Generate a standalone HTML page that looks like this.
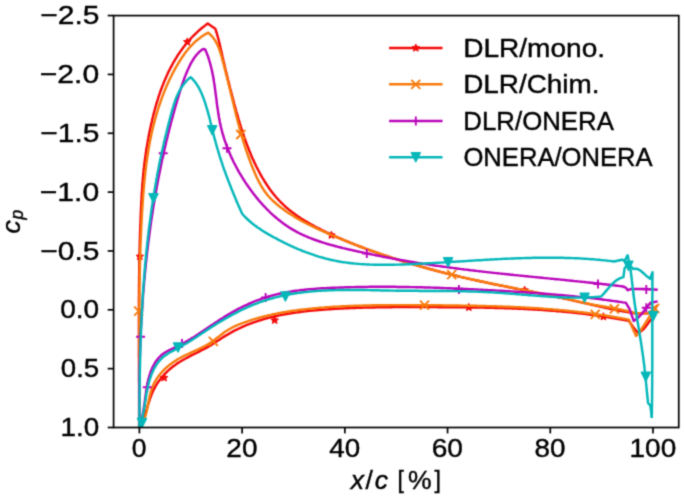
<!DOCTYPE html>
<html><head><meta charset="utf-8"><style>
html,body{margin:0;padding:0;background:#fff;}
svg{display:block;}
text{font-family:"Liberation Sans",sans-serif;fill:#000;stroke:#000;stroke-width:0.4px;}
</style></head><body>
<svg width="685" height="499" viewBox="0 0 685 499">
<defs><filter id="soft" filterUnits="userSpaceOnUse" x="0" y="0" width="685" height="499" color-interpolation-filters="sRGB"><feConvolveMatrix order="3" kernelMatrix="0.0289 0.1122 0.0289 0.1122 0.4356 0.1122 0.0289 0.1122 0.0289" divisor="1" edgeMode="duplicate"/></filter></defs>
<g filter="url(#soft)">
<rect width="685" height="499" fill="#fff"/>
<defs><clipPath id="cp"><rect x="113.6" y="15.6" width="565.15" height="411.90"/></clipPath></defs>
<g clip-path="url(#cp)">
<path d="M139.1,427.0L139.1,425.5L139.1,424.0L139.1,422.5L139.1,421.0L139.1,419.5L139.1,418.0L139.1,416.5L139.1,415.0L139.1,413.5L139.1,412.0L139.1,410.5L139.1,409.0L139.1,407.5L139.1,406.0L139.1,404.5L139.1,403.0L139.1,401.5L139.1,400.0L139.1,398.5L139.1,397.0L139.1,395.5L139.1,393.9L139.1,392.4L139.1,390.9L139.1,389.4L139.1,387.9L139.1,386.4L139.1,384.9L139.1,383.4L139.0,381.9L139.0,380.4L139.0,378.9L139.0,377.4L139.0,375.9L139.0,374.4L139.0,372.9L139.0,371.4L139.0,369.9L139.0,368.3L139.0,366.8L139.0,365.3L139.0,363.8L139.0,362.3L139.0,360.8L139.0,359.3L139.0,357.8L138.9,356.3L138.9,354.8L138.9,353.3L138.9,351.8L138.9,350.2L138.9,348.7L138.9,347.2L138.9,345.7L138.9,344.2L138.9,342.7L138.9,341.2L138.9,339.7L138.9,338.2L138.9,336.7L138.9,335.2L138.9,333.6L138.9,332.1L138.9,330.6L138.9,329.1L138.9,327.6L138.9,326.1L138.9,324.6L138.9,323.1L138.9,321.6L138.9,320.1L138.9,318.6L138.9,317.0L138.9,315.5L138.9,314.0L138.9,312.5L138.9,311.0L138.9,309.5L138.9,308.0L138.9,306.5L138.9,305.0L138.9,303.5L138.9,301.9L138.9,300.4L138.9,298.9L138.9,297.4L139.0,295.9L139.0,294.4L139.0,292.9L139.0,291.4L139.0,289.9L139.0,288.4L139.0,286.9L139.0,285.3L139.1,283.8L139.1,282.3L139.1,280.8L139.1,279.3L139.1,277.8L139.1,276.3L139.2,274.8L139.2,273.3L139.2,271.8L139.2,270.3L139.2,268.8L139.3,267.2L139.3,265.7L139.3,264.2L139.3,262.7L139.4,261.2L139.4,259.7L139.4,258.2L139.5,256.7L139.5,255.2L139.5,253.7L139.6,252.2L139.6,250.7L139.6,249.2L139.7,247.7L139.7,246.2L139.7,244.6L139.8,243.1L139.8,241.6L139.9,240.1L139.9,238.6L139.9,237.1L140.0,235.6L140.0,234.1L140.1,232.6L140.1,231.1L140.2,229.6L140.2,228.1L140.3,226.6L140.3,225.1L140.4,223.6L140.5,222.1L140.5,220.6L140.6,219.1L140.6,217.6L140.7,216.1L140.8,214.6L140.8,213.1L140.9,211.6L141.0,210.1L141.0,208.6L141.1,207.1L141.2,205.6L141.2,204.1L141.3,202.6L141.4,201.1L141.5,199.6L141.6,198.1L141.6,196.6L141.7,195.1L141.8,193.6L141.9,192.1L142.0,190.6L142.1,189.1L142.2,187.6L142.3,186.1L142.4,184.6L142.5,183.1L142.7,181.6L142.8,180.1L142.9,178.6L143.0,177.1L143.2,175.6L143.3,174.1L143.4,172.7L143.6,171.2L143.7,169.7L143.9,168.2L144.1,166.7L144.2,165.2L144.4,163.7L144.6,162.2L144.8,160.7L145.0,159.2L145.2,157.8L145.4,156.3L145.6,154.8L145.8,153.3L146.0,151.8L146.2,150.3L146.5,148.8L146.7,147.4L147.0,145.9L147.2,144.4L147.5,142.9L147.7,141.4L148.0,139.9L148.3,138.4L148.5,137.0L148.8,135.5L149.1,134.0L149.4,132.5L149.7,131.0L150.0,129.6L150.3,128.1L150.7,126.6L151.0,125.1L151.3,123.6L151.7,122.1L152.0,120.7L152.3,119.2L152.7,117.7L153.1,116.2L153.4,114.7L153.8,113.3L154.2,111.8L154.6,110.3L155.0,108.9L155.4,107.4L155.8,105.9L156.2,104.5L156.7,103.0L157.1,101.5L157.6,100.1L158.0,98.6L158.5,97.2L158.9,95.7L159.4,94.3L159.9,92.9L160.4,91.4L160.9,90.0L161.4,88.6L162.0,87.2L162.5,85.8L163.1,84.4L163.6,83.0L164.2,81.6L164.8,80.2L165.4,78.8L166.0,77.4L166.6,76.0L167.2,74.7L167.8,73.3L168.5,71.9L169.1,70.6L169.8,69.3L170.5,67.9L171.2,66.6L171.9,65.3L172.6,64.0L173.3,62.7L174.1,61.4L174.8,60.1L175.6,58.8L176.4,57.6L177.1,56.3L177.9,55.1L178.8,53.8L179.6,52.6L180.4,51.4L181.3,50.2L182.2,49.0L183.1,47.8L184.0,46.6L184.9,45.4L185.8,44.3L186.8,43.1L187.7,42.0L188.7,40.8L189.7,39.7L190.7,38.6L191.7,37.5L192.7,36.5L193.8,35.4L194.9,34.3L195.9,33.3L197.0,32.3L198.2,31.2L199.3,30.2L200.4,29.3L201.6,28.3L202.8,27.3L204.0,26.4L205.2,25.4L206.4,24.5L207.7,23.6L215.3,28.7L215.8,30.1L216.2,31.5L216.7,33.0L217.1,34.4L217.5,35.8L217.9,37.3L218.3,38.7L218.7,40.2L219.0,41.6L219.4,43.1L219.8,44.6L220.1,46.0L220.4,47.5L220.8,49.0L221.1,50.4L221.4,51.9L221.8,53.4L222.1,54.8L222.4,56.3L222.8,57.8L223.1,59.2L223.4,60.7L223.8,62.2L224.1,63.7L224.5,65.1L224.8,66.6L225.2,68.0L225.5,69.5L225.9,71.0L226.2,72.4L226.6,73.9L226.9,75.4L227.3,76.8L227.6,78.3L228.0,79.8L228.4,81.2L228.7,82.7L229.1,84.1L229.5,85.6L229.8,87.1L230.2,88.5L230.6,90.0L231.0,91.4L231.3,92.9L231.7,94.3L232.1,95.8L232.5,97.3L232.9,98.7L233.3,100.2L233.7,101.6L234.0,103.1L234.4,104.5L234.8,106.0L235.2,107.4L235.6,108.9L236.0,110.4L236.4,111.8L236.9,113.3L237.3,114.7L237.7,116.2L238.1,117.6L238.5,119.1L239.0,120.5L239.4,121.9L239.8,123.4L240.3,124.8L240.7,126.3L241.2,127.7L241.6,129.1L242.1,130.6L242.6,132.0L243.0,133.4L243.5,134.9L244.0,136.3L244.5,137.7L245.0,139.1L245.5,140.6L246.0,142.0L246.5,143.4L247.0,144.8L247.6,146.2L248.1,147.6L248.7,149.0L249.2,150.4L249.8,151.8L250.4,153.2L250.9,154.6L251.5,156.0L252.1,157.4L252.7,158.8L253.4,160.1L254.0,161.5L254.6,162.9L255.3,164.3L255.9,165.6L256.6,167.0L257.3,168.3L258.0,169.7L258.7,171.0L259.4,172.3L260.1,173.7L260.8,175.0L261.6,176.3L262.3,177.6L263.1,178.9L263.9,180.2L264.7,181.5L265.5,182.7L266.3,184.0L267.1,185.3L268.0,186.5L268.8,187.7L269.7,189.0L270.6,190.2L271.5,191.4L272.4,192.6L273.3,193.7L274.2,194.9L275.2,196.0L276.1,197.2L277.1,198.3L278.1,199.4L279.1,200.5L280.2,201.6L281.2,202.6L282.3,203.7L283.3,204.7L284.4,205.7L285.5,206.8L286.6,207.7L287.8,208.7L288.9,209.7L290.1,210.6L291.3,211.5L292.5,212.4L293.7,213.3L294.9,214.2L296.1,215.1L297.3,216.0L298.6,216.8L299.8,217.6L301.1,218.5L302.4,219.3L303.7,220.1L305.0,220.9L306.3,221.6L307.6,222.4L308.9,223.2L310.2,223.9L311.6,224.7L312.9,225.4L314.2,226.1L315.6,226.8L316.9,227.5L318.3,228.2L319.7,228.9L321.0,229.6L322.4,230.3L323.8,230.9L325.1,231.6L326.5,232.3L327.9,232.9L329.2,233.6L330.6,234.2L332.0,234.8L333.4,235.5L334.7,236.1L336.1,236.7L337.5,237.3L338.9,237.9L340.3,238.5L341.7,239.1L343.0,239.7L344.4,240.3L345.8,240.9L347.2,241.5L348.6,242.0L350.0,242.6L351.4,243.2L352.8,243.7L354.2,244.3L355.6,244.8L357.0,245.4L358.4,245.9L359.8,246.5L361.2,247.0L362.6,247.5L364.0,248.1L365.4,248.6L366.8,249.1L368.2,249.6L369.6,250.1L371.0,250.6L372.4,251.1L373.8,251.6L375.2,252.1L376.7,252.6L378.1,253.1L379.5,253.6L380.9,254.1L382.3,254.6L383.8,255.1L385.2,255.5L386.6,256.0L388.0,256.5L389.5,256.9L390.9,257.4L392.3,257.9L393.8,258.3L395.2,258.8L396.6,259.2L398.1,259.7L399.5,260.1L400.9,260.6L402.4,261.0L403.8,261.5L405.3,261.9L406.7,262.4L408.1,262.8L409.6,263.2L411.0,263.7L412.5,264.1L413.9,264.5L415.4,264.9L416.8,265.4L418.3,265.8L419.7,266.2L421.2,266.6L422.6,267.0L424.1,267.4L425.5,267.8L427.0,268.2L428.5,268.6L429.9,269.0L431.4,269.4L432.8,269.8L434.3,270.2L435.8,270.6L437.2,271.0L438.7,271.4L440.1,271.8L441.6,272.1L443.1,272.5L444.5,272.9L446.0,273.3L447.5,273.6L448.9,274.0L450.4,274.4L451.9,274.7L453.3,275.1L454.8,275.4L456.3,275.8L457.7,276.2L459.2,276.5L460.7,276.9L462.1,277.2L463.6,277.5L465.1,277.9L466.6,278.2L468.0,278.6L469.5,278.9L471.0,279.2L472.4,279.6L473.9,279.9L475.4,280.2L476.9,280.5L478.3,280.8L479.8,281.2L481.3,281.5L482.8,281.8L484.2,282.1L485.7,282.4L487.2,282.7L488.6,283.1L490.1,283.4L491.6,283.7L493.1,284.0L494.5,284.3L496.0,284.6L497.5,284.9L499.0,285.2L500.4,285.5L501.9,285.8L503.4,286.1L504.9,286.4L506.3,286.7L507.8,287.0L509.3,287.3L510.8,287.6L512.3,287.9L513.7,288.2L515.2,288.5L516.7,288.8L518.2,289.1L519.6,289.4L521.1,289.6L522.6,289.9L524.1,290.2L525.5,290.5L527.0,290.8L528.5,291.1L530.0,291.4L531.4,291.7L532.9,292.0L534.4,292.3L535.9,292.6L537.3,292.9L538.8,293.2L540.3,293.5L541.8,293.8L543.2,294.1L544.7,294.4L546.2,294.7L547.7,295.0L549.1,295.3L550.6,295.6L552.1,295.9L553.5,296.2L555.0,296.6L556.5,296.9L558.0,297.2L559.4,297.5L560.9,297.8L562.4,298.1L563.8,298.5L565.3,298.8L566.8,299.1L568.3,299.4L569.7,299.8L571.2,300.1L572.7,300.4L574.1,300.8L575.6,301.1L577.1,301.4L578.5,301.8L580.0,302.1L581.5,302.4L583.0,302.8L584.4,303.1L585.9,303.4L587.4,303.8L588.8,304.1L590.3,304.4L591.8,304.8L593.2,305.1L594.7,305.4L596.2,305.8L597.6,306.1L599.1,306.4L600.6,306.8L602.1,307.1L603.5,307.4L605.0,307.7L606.5,308.0L608.0,308.4L609.4,308.7L610.9,309.0L612.4,309.3L613.9,309.6L615.3,309.9L616.8,310.2L618.3,310.5L619.8,310.8L621.2,311.0L622.7,311.3L624.2,311.6L625.7,311.9L627.2,312.1L628.7,312.4L630.1,312.6L631.6,312.9L633.1,313.1L634.6,313.4L636.1,313.6L648.1,313.4L652.9,310.1L656.5,306.5" fill="none" stroke="#f40a0a" stroke-width="2.45" stroke-linejoin="round" stroke-linecap="square"/>
<path d="M139.1,427.0L139.9,425.7L140.6,424.5L141.3,423.1L142.0,421.8L142.6,420.5L143.2,419.1L143.8,417.7L144.3,416.3L144.8,414.9L145.3,413.5L145.8,412.0L146.2,410.6L146.7,409.1L147.1,407.7L147.6,406.2L148.0,404.8L148.5,403.3L149.0,401.8L149.5,400.4L149.9,398.9L150.5,397.5L151.0,396.0L151.5,394.6L152.1,393.2L152.7,391.8L153.3,390.5L154.0,389.1L154.7,387.8L155.4,386.5L156.2,385.2L156.9,383.9L157.7,382.7L158.6,381.5L159.5,380.3L160.3,379.1L161.3,377.9L162.2,376.8L163.2,375.7L164.2,374.6L165.2,373.5L166.3,372.5L167.3,371.4L168.4,370.4L169.5,369.4L170.6,368.5L171.8,367.5L173.0,366.6L174.2,365.7L175.4,364.8L176.6,364.0L177.8,363.1L179.1,362.3L180.3,361.5L181.6,360.8L182.9,360.0L184.2,359.3L185.6,358.5L186.9,357.8L188.2,357.1L189.6,356.4L190.9,355.7L192.2,355.0L193.6,354.3L195.0,353.7L196.3,353.0L197.7,352.3L199.0,351.6L200.4,350.9L201.7,350.2L203.1,349.5L204.4,348.8L205.7,348.1L207.1,347.4L208.4,346.6L209.7,345.9L211.0,345.1L212.3,344.3L213.5,343.5L214.8,342.7L216.1,341.8L217.3,341.0L218.6,340.2L219.8,339.4L221.1,338.5L222.3,337.7L223.6,336.9L224.9,336.1L226.2,335.3L227.5,334.6L228.8,333.8L230.1,333.1L231.4,332.3L232.7,331.6L234.0,330.9L235.4,330.2L236.7,329.6L238.0,328.9L239.4,328.3L240.8,327.6L242.1,327.0L243.5,326.4L244.9,325.8L246.2,325.2L247.6,324.7L249.0,324.1L250.4,323.6L251.8,323.1L253.2,322.5L254.6,322.1L256.1,321.6L257.5,321.1L258.9,320.6L260.3,320.2L261.8,319.8L263.2,319.3L264.6,318.9L266.1,318.5L267.5,318.1L269.0,317.8L270.4,317.4L271.9,317.0L273.4,316.7L274.8,316.3L276.3,316.0L277.8,315.7L279.2,315.4L280.7,315.1L282.2,314.8L283.7,314.5L285.1,314.3L286.6,314.0L288.1,313.7L289.6,313.5L291.1,313.3L292.6,313.0L294.1,312.8L295.6,312.6L297.1,312.4L298.6,312.2L300.1,312.0L301.6,311.8L303.1,311.6L304.6,311.4L306.1,311.3L307.6,311.1L309.1,310.9L310.6,310.8L312.1,310.6L313.6,310.5L315.1,310.4L316.6,310.2L318.1,310.1L319.7,310.0L321.2,309.8L322.7,309.7L324.2,309.6L325.7,309.5L327.2,309.4L328.7,309.3L330.2,309.2L331.7,309.1L333.2,309.0L334.7,308.9L336.2,308.8L337.7,308.7L339.2,308.6L340.7,308.5L342.2,308.4L343.7,308.4L345.2,308.3L346.8,308.2L348.3,308.2L349.8,308.1L351.3,308.0L352.8,308.0L354.3,307.9L355.8,307.9L357.3,307.8L358.8,307.8L360.3,307.7L361.8,307.7L363.3,307.6L364.8,307.6L366.3,307.5L367.8,307.5L369.3,307.5L370.8,307.4L372.3,307.4L373.8,307.4L375.3,307.4L376.8,307.3L378.3,307.3L379.8,307.3L381.3,307.3L382.8,307.2L384.3,307.2L385.8,307.2L387.3,307.2L388.8,307.2L390.3,307.2L391.8,307.2L393.3,307.1L394.8,307.1L396.3,307.1L397.8,307.1L399.3,307.1L400.8,307.1L402.3,307.1L403.8,307.1L405.3,307.1L406.8,307.1L408.3,307.1L409.8,307.1L411.3,307.1L412.8,307.1L414.3,307.1L415.8,307.1L417.4,307.1L418.9,307.1L420.4,307.1L421.9,307.1L423.4,307.1L424.9,307.1L426.4,307.1L427.9,307.1L429.4,307.1L430.9,307.1L432.4,307.1L433.9,307.1L435.4,307.1L436.9,307.1L438.4,307.2L439.9,307.2L441.4,307.2L442.9,307.2L444.4,307.2L446.0,307.2L447.5,307.2L449.0,307.2L450.5,307.2L452.0,307.2L453.5,307.2L455.0,307.2L456.5,307.3L458.0,307.3L459.5,307.3L461.0,307.3L462.5,307.3L464.0,307.3L465.6,307.3L467.1,307.4L468.6,307.4L470.1,307.4L471.6,307.4L473.1,307.4L474.6,307.5L476.1,307.5L477.6,307.5L479.1,307.5L480.6,307.6L482.1,307.6L483.7,307.6L485.2,307.7L486.7,307.7L488.2,307.7L489.7,307.8L491.2,307.8L492.7,307.8L494.2,307.9L495.7,307.9L497.2,307.9L498.7,308.0L500.2,308.0L501.7,308.1L503.3,308.1L504.8,308.2L506.3,308.2L507.8,308.3L509.3,308.3L510.8,308.4L512.3,308.5L513.8,308.5L515.3,308.6L516.8,308.6L518.3,308.7L519.8,308.8L521.3,308.8L522.8,308.9L524.3,309.0L525.8,309.1L527.4,309.1L528.9,309.2L530.4,309.3L531.9,309.4L533.4,309.5L534.9,309.6L536.4,309.6L537.9,309.7L539.4,309.8L540.9,309.9L542.4,310.0L543.9,310.1L545.4,310.2L546.9,310.3L548.4,310.5L549.9,310.6L551.4,310.7L552.9,310.8L554.4,310.9L555.9,311.0L557.4,311.2L558.9,311.3L560.4,311.4L561.9,311.6L563.4,311.7L564.9,311.8L566.4,312.0L567.9,312.1L569.4,312.3L570.9,312.4L572.4,312.6L573.9,312.7L575.4,312.9L576.9,313.1L578.4,313.2L579.9,313.4L581.4,313.6L582.8,313.7L584.3,313.9L585.8,314.1L587.3,314.3L588.8,314.5L590.3,314.7L591.8,314.9L593.3,315.1L594.8,315.3L596.3,315.5L597.8,315.7L599.2,315.9L600.7,316.1L602.2,316.3L603.7,316.5L605.2,316.8L606.7,317.0L608.2,317.2L609.6,317.5L611.1,317.7L612.6,318.0L614.1,318.2L615.6,318.5L617.1,318.7L618.5,319.0L620.0,319.2L621.5,319.5L623.0,319.8L624.5,320.0L625.9,320.3L627.4,320.6L628.9,320.9L633.5,327.5L638.0,333.0L639.5,332.3L640.8,331.4L642.1,330.4L643.3,329.3L644.4,328.1L645.5,326.8L646.5,325.5L647.5,324.1L648.5,322.7L649.5,321.3L650.6,320.0L651.6,318.6L652.7,317.3L653.8,316.1L655.0,315.0" fill="none" stroke="#f40a0a" stroke-width="2.45" stroke-linejoin="round" stroke-linecap="square"/>
<polygon points="187.3,37.9 186.2,40.4 183.5,40.7 185.6,42.5 184.9,45.1 187.3,43.7 189.7,45.1 189.0,42.5 191.1,40.7 188.4,40.4" fill="#f40a0a" stroke="#f40a0a" stroke-width="1.0" stroke-linejoin="round"/>
<polygon points="139.8,252.5 138.7,255.0 136.0,255.3 138.1,257.1 137.4,259.7 139.8,258.3 142.2,259.7 141.5,257.1 143.6,255.3 140.9,255.0" fill="#f40a0a" stroke="#f40a0a" stroke-width="1.0" stroke-linejoin="round"/>
<polygon points="164.1,373.8 163.0,376.3 160.3,376.6 162.4,378.4 161.7,381.0 164.1,379.6 166.5,381.0 165.8,378.4 167.9,376.6 165.2,376.3" fill="#f40a0a" stroke="#f40a0a" stroke-width="1.0" stroke-linejoin="round"/>
<polygon points="274.7,316.3 273.6,318.8 270.9,319.1 273.0,320.9 272.3,323.5 274.7,322.1 277.1,323.5 276.4,320.9 278.5,319.1 275.8,318.8" fill="#f40a0a" stroke="#f40a0a" stroke-width="1.0" stroke-linejoin="round"/>
<polygon points="331.4,231.2 330.3,233.7 327.6,234.0 329.7,235.8 329.0,238.4 331.4,237.0 333.8,238.4 333.1,235.8 335.2,234.0 332.5,233.7" fill="#f40a0a" stroke="#f40a0a" stroke-width="1.0" stroke-linejoin="round"/>
<polygon points="468.8,303.4 467.7,305.9 465.0,306.2 467.1,308.0 466.4,310.6 468.8,309.2 471.2,310.6 470.5,308.0 472.6,306.2 469.9,305.9" fill="#f40a0a" stroke="#f40a0a" stroke-width="1.0" stroke-linejoin="round"/>
<polygon points="524.6,286.2 523.5,288.7 520.8,289.0 522.9,290.8 522.2,293.4 524.6,292.0 527.0,293.4 526.3,290.8 528.4,289.0 525.7,288.7" fill="#f40a0a" stroke="#f40a0a" stroke-width="1.0" stroke-linejoin="round"/>
<polygon points="603.4,312.7 602.3,315.2 599.6,315.5 601.7,317.3 601.0,319.9 603.4,318.5 605.8,319.9 605.1,317.3 607.2,315.5 604.5,315.2" fill="#f40a0a" stroke="#f40a0a" stroke-width="1.0" stroke-linejoin="round"/>
<path d="M139.2,427.0L139.2,425.5L139.2,424.0L139.2,422.5L139.3,421.0L139.3,419.5L139.3,418.0L139.3,416.5L139.3,415.0L139.3,413.5L139.3,412.0L139.3,410.5L139.3,409.0L139.3,407.5L139.3,406.0L139.3,404.5L139.3,402.9L139.3,401.4L139.3,399.9L139.3,398.4L139.3,396.9L139.3,395.4L139.3,393.9L139.4,392.4L139.4,390.9L139.4,389.4L139.4,387.9L139.4,386.4L139.3,384.9L139.3,383.4L139.3,381.9L139.3,380.3L139.3,378.8L139.3,377.3L139.3,375.8L139.3,374.3L139.3,372.8L139.3,371.3L139.3,369.8L139.3,368.3L139.3,366.8L139.3,365.3L139.3,363.7L139.3,362.2L139.3,360.7L139.3,359.2L139.3,357.7L139.3,356.2L139.3,354.7L139.3,353.2L139.3,351.7L139.3,350.2L139.3,348.6L139.3,347.1L139.3,345.6L139.3,344.1L139.3,342.6L139.3,341.1L139.3,339.6L139.3,338.1L139.3,336.6L139.3,335.0L139.3,333.5L139.3,332.0L139.3,330.5L139.3,329.0L139.3,327.5L139.3,326.0L139.3,324.5L139.3,322.9L139.3,321.4L139.3,319.9L139.3,318.4L139.3,316.9L139.3,315.4L139.3,313.9L139.3,312.4L139.3,310.9L139.3,309.3L139.3,307.8L139.4,306.3L139.4,304.8L139.4,303.3L139.4,301.8L139.4,300.3L139.4,298.8L139.4,297.3L139.4,295.7L139.5,294.2L139.5,292.7L139.5,291.2L139.5,289.7L139.5,288.2L139.5,286.7L139.6,285.2L139.6,283.7L139.6,282.1L139.6,280.6L139.7,279.1L139.7,277.6L139.7,276.1L139.7,274.6L139.8,273.1L139.8,271.6L139.8,270.1L139.9,268.5L139.9,267.0L139.9,265.5L140.0,264.0L140.0,262.5L140.0,261.0L140.1,259.5L140.1,258.0L140.2,256.5L140.2,255.0L140.3,253.5L140.3,252.0L140.3,250.4L140.4,248.9L140.4,247.4L140.5,245.9L140.5,244.4L140.6,242.9L140.7,241.4L140.7,239.9L140.8,238.4L140.8,236.9L140.9,235.4L141.0,233.9L141.0,232.4L141.1,230.9L141.2,229.4L141.2,227.8L141.3,226.3L141.4,224.8L141.5,223.3L141.5,221.8L141.6,220.3L141.7,218.8L141.8,217.3L141.9,215.8L141.9,214.3L142.0,212.8L142.1,211.3L142.2,209.8L142.3,208.3L142.4,206.8L142.5,205.3L142.6,203.8L142.7,202.3L142.8,200.8L142.9,199.3L143.0,197.8L143.1,196.3L143.2,194.8L143.3,193.3L143.5,191.8L143.6,190.3L143.7,188.8L143.8,187.3L144.0,185.8L144.1,184.3L144.2,182.8L144.4,181.3L144.5,179.8L144.7,178.4L144.8,176.9L145.0,175.4L145.2,173.9L145.3,172.4L145.5,170.9L145.7,169.4L145.8,167.9L146.0,166.4L146.2,164.9L146.4,163.4L146.6,161.9L146.8,160.5L147.0,159.0L147.2,157.5L147.5,156.0L147.7,154.5L147.9,153.0L148.2,151.5L148.4,150.0L148.7,148.5L148.9,147.1L149.2,145.6L149.5,144.1L149.7,142.6L150.0,141.1L150.3,139.6L150.6,138.2L150.9,136.7L151.2,135.2L151.5,133.7L151.9,132.2L152.2,130.8L152.6,129.3L152.9,127.8L153.3,126.3L153.6,124.9L154.0,123.4L154.4,121.9L154.8,120.4L155.2,119.0L155.6,117.5L156.0,116.1L156.4,114.6L156.8,113.1L157.3,111.7L157.7,110.2L158.2,108.8L158.6,107.3L159.1,105.9L159.6,104.5L160.1,103.0L160.6,101.6L161.1,100.2L161.6,98.7L162.1,97.3L162.6,95.9L163.2,94.5L163.7,93.1L164.3,91.7L164.8,90.3L165.4,88.9L166.0,87.5L166.6,86.1L167.2,84.7L167.8,83.3L168.5,81.9L169.1,80.6L169.7,79.2L170.4,77.9L171.1,76.5L171.7,75.2L172.4,73.8L173.1,72.5L173.8,71.1L174.5,69.8L175.3,68.5L176.0,67.2L176.8,65.9L177.5,64.6L178.3,63.3L179.1,62.0L179.9,60.7L180.7,59.5L181.5,58.2L182.3,57.0L183.2,55.7L184.0,54.5L184.9,53.3L185.8,52.1L186.7,50.9L187.7,49.8L188.6,48.6L189.6,47.5L190.6,46.4L191.6,45.3L192.6,44.3L193.7,43.2L194.7,42.2L195.8,41.2L197.0,40.2L198.1,39.3L199.3,38.4L200.5,37.5L201.7,36.6L202.9,35.8L204.2,34.9L205.5,34.2L206.8,33.4L208.2,32.7L209.4,33.7L210.5,34.8L211.6,35.9L212.6,37.0L213.5,38.2L214.4,39.4L215.2,40.7L215.9,41.9L216.6,43.2L217.3,44.5L217.9,45.9L218.5,47.2L219.0,48.6L219.5,50.0L220.0,51.4L220.5,52.9L220.9,54.3L221.3,55.7L221.8,57.2L222.1,58.6L222.5,60.1L222.9,61.6L223.3,63.0L223.7,64.5L224.1,65.9L224.4,67.4L224.8,68.9L225.2,70.3L225.6,71.8L225.9,73.3L226.3,74.7L226.7,76.2L227.0,77.6L227.4,79.1L227.8,80.6L228.1,82.0L228.5,83.5L228.8,85.0L229.2,86.4L229.6,87.9L229.9,89.4L230.3,90.8L230.6,92.3L231.0,93.7L231.3,95.2L231.7,96.7L232.1,98.1L232.4,99.6L232.8,101.1L233.1,102.5L233.5,104.0L233.8,105.5L234.2,106.9L234.5,108.4L234.9,109.8L235.3,111.3L235.6,112.8L236.0,114.2L236.3,115.7L236.7,117.2L237.1,118.6L237.5,120.1L237.8,121.5L238.2,123.0L238.6,124.4L239.0,125.9L239.4,127.3L239.7,128.8L240.1,130.2L240.5,131.7L240.9,133.1L241.4,134.6L241.8,136.0L242.2,137.5L242.6,138.9L243.0,140.3L243.5,141.8L243.9,143.2L244.4,144.6L244.8,146.1L245.3,147.5L245.7,148.9L246.2,150.4L246.7,151.8L247.2,153.2L247.7,154.6L248.2,156.0L248.7,157.5L249.2,158.9L249.7,160.3L250.3,161.7L250.8,163.1L251.3,164.5L251.9,165.9L252.4,167.3L253.0,168.7L253.6,170.1L254.2,171.5L254.8,172.9L255.4,174.3L256.0,175.7L256.6,177.1L257.3,178.5L258.0,179.8L258.6,181.2L259.3,182.5L260.1,183.8L260.8,185.2L261.5,186.5L262.3,187.7L263.1,189.0L264.0,190.3L264.8,191.5L265.7,192.7L266.6,193.9L267.5,195.0L268.5,196.2L269.5,197.3L270.5,198.4L271.6,199.5L272.6,200.5L273.7,201.5L274.8,202.5L276.0,203.5L277.1,204.5L278.3,205.5L279.4,206.4L280.6,207.3L281.8,208.2L283.0,209.1L284.2,210.0L285.4,210.9L286.7,211.7L287.9,212.6L289.2,213.4L290.4,214.2L291.7,215.0L293.0,215.8L294.2,216.6L295.5,217.4L296.8,218.1L298.1,218.9L299.4,219.6L300.7,220.4L302.1,221.1L303.4,221.8L304.7,222.5L306.0,223.2L307.4,223.9L308.7,224.6L310.1,225.2L311.4,225.9L312.8,226.6L314.1,227.2L315.5,227.9L316.9,228.5L318.3,229.1L319.6,229.8L321.0,230.4L322.4,231.0L323.8,231.6L325.1,232.2L326.5,232.9L327.9,233.5L329.3,234.1L330.7,234.7L332.1,235.3L333.5,235.8L334.8,236.4L336.2,237.0L337.6,237.6L339.0,238.2L340.4,238.8L341.8,239.3L343.2,239.9L344.6,240.5L346.0,241.0L347.4,241.6L348.8,242.2L350.2,242.7L351.6,243.3L353.0,243.8L354.4,244.4L355.8,244.9L357.2,245.4L358.6,246.0L360.0,246.5L361.5,247.0L362.9,247.6L364.3,248.1L365.7,248.6L367.1,249.1L368.5,249.7L369.9,250.2L371.3,250.7L372.8,251.2L374.2,251.7L375.6,252.2L377.0,252.7L378.4,253.2L379.9,253.7L381.3,254.2L382.7,254.7L384.1,255.1L385.6,255.6L387.0,256.1L388.4,256.6L389.9,257.0L391.3,257.5L392.7,258.0L394.1,258.4L395.6,258.9L397.0,259.4L398.4,259.8L399.9,260.3L401.3,260.7L402.7,261.2L404.2,261.6L405.6,262.1L407.1,262.5L408.5,262.9L409.9,263.4L411.4,263.8L412.8,264.2L414.3,264.7L415.7,265.1L417.2,265.5L418.6,265.9L420.1,266.3L421.5,266.7L422.9,267.2L424.4,267.6L425.8,268.0L427.3,268.4L428.7,268.8L430.2,269.2L431.6,269.5L433.1,269.9L434.6,270.3L436.0,270.7L437.5,271.1L438.9,271.5L440.4,271.9L441.8,272.2L443.3,272.6L444.8,273.0L446.2,273.3L447.7,273.7L449.1,274.1L450.6,274.4L452.1,274.8L453.5,275.1L455.0,275.5L456.4,275.8L457.9,276.2L459.4,276.5L460.8,276.9L462.3,277.2L463.8,277.6L465.2,277.9L466.7,278.2L468.2,278.5L469.7,278.9L471.1,279.2L472.6,279.5L474.1,279.8L475.5,280.2L477.0,280.5L478.5,280.8L480.0,281.1L481.4,281.4L482.9,281.7L484.4,282.0L485.9,282.3L487.3,282.7L488.8,283.0L490.3,283.3L491.8,283.6L493.2,283.9L494.7,284.2L496.2,284.5L497.7,284.8L499.1,285.1L500.6,285.3L502.1,285.6L503.6,285.9L505.0,286.2L506.5,286.5L508.0,286.8L509.5,287.1L511.0,287.4L512.4,287.7L513.9,288.0L515.4,288.3L516.9,288.6L518.3,288.9L519.8,289.1L521.3,289.4L522.8,289.7L524.3,290.0L525.7,290.3L527.2,290.6L528.7,290.9L530.2,291.2L531.6,291.5L533.1,291.8L534.6,292.1L536.1,292.4L537.5,292.7L539.0,293.0L540.5,293.3L542.0,293.6L543.4,293.9L544.9,294.2L546.4,294.5L547.9,294.8L549.3,295.1L550.8,295.4L552.3,295.7L553.7,296.0L555.2,296.3L556.7,296.6L558.2,297.0L559.6,297.3L561.1,297.6L562.6,297.9L564.0,298.3L565.5,298.6L567.0,298.9L568.4,299.2L569.9,299.6L571.3,299.9L572.8,300.2L574.3,300.6L575.7,300.9L577.2,301.2L578.7,301.6L580.1,301.9L581.6,302.2L583.1,302.5L584.5,302.9L586.0,303.2L587.5,303.5L588.9,303.8L590.4,304.1L591.9,304.4L593.3,304.7L594.8,305.0L596.3,305.2L597.8,305.5L599.3,305.8L600.7,306.0L602.2,306.3L603.7,306.5L605.2,306.7L606.7,307.0L608.1,307.2L609.6,307.5L611.1,307.7L612.6,308.0L614.1,308.3L615.5,308.6L617.0,308.8L618.5,309.1L620.0,309.4L621.4,309.7L622.9,310.0L624.4,310.4L625.8,310.7L627.3,311.0L628.8,311.4L630.2,311.7L631.7,312.0L633.2,312.4L634.6,312.7L636.1,313.1L648.1,313.1L652.9,310.1L656.5,305.9" fill="none" stroke="#f77a0d" stroke-width="2.45" stroke-linejoin="round" stroke-linecap="square"/>
<path d="M139.2,427.0L140.2,425.9L141.1,424.8L141.9,423.6L142.6,422.3L143.3,421.1L143.9,419.8L144.5,418.4L145.0,417.0L145.5,415.6L145.9,414.2L146.3,412.8L146.7,411.3L147.0,409.8L147.3,408.3L147.6,406.8L147.9,405.2L148.2,403.7L148.5,402.2L148.8,400.6L149.1,399.1L149.4,397.6L149.7,396.1L150.1,394.5L150.4,393.1L150.9,391.6L151.3,390.1L151.8,388.7L152.3,387.3L152.9,385.9L153.5,384.5L154.1,383.2L154.8,381.9L155.6,380.6L156.3,379.4L157.1,378.1L158.0,376.9L158.8,375.7L159.8,374.6L160.7,373.4L161.7,372.3L162.7,371.2L163.7,370.2L164.7,369.1L165.8,368.1L166.9,367.1L168.1,366.2L169.2,365.2L170.4,364.3L171.6,363.4L172.8,362.5L174.0,361.7L175.3,360.9L176.6,360.1L177.8,359.3L179.1,358.5L180.5,357.8L181.8,357.1L183.1,356.4L184.5,355.7L185.8,355.1L187.2,354.4L188.6,353.8L189.9,353.1L191.3,352.5L192.7,351.9L194.1,351.2L195.4,350.6L196.8,350.0L198.2,349.3L199.5,348.7L200.9,348.0L202.3,347.3L203.6,346.7L204.9,346.0L206.3,345.2L207.6,344.5L208.9,343.7L210.1,342.9L211.4,342.1L212.7,341.3L213.9,340.4L215.1,339.5L216.3,338.6L217.5,337.6L218.7,336.7L219.9,335.8L221.0,334.8L222.2,333.9L223.4,333.0L224.7,332.1L225.9,331.3L227.2,330.5L228.4,329.7L229.7,329.0L231.0,328.2L232.4,327.5L233.7,326.9L235.0,326.2L236.4,325.6L237.8,325.0L239.1,324.4L240.5,323.9L241.9,323.3L243.3,322.8L244.7,322.3L246.2,321.8L247.6,321.3L249.0,320.8L250.4,320.3L251.9,319.9L253.3,319.4L254.7,319.0L256.2,318.6L257.6,318.2L259.0,317.8L260.5,317.4L261.9,317.0L263.4,316.6L264.9,316.2L266.3,315.9L267.8,315.5L269.2,315.2L270.7,314.9L272.2,314.5L273.6,314.2L275.1,313.9L276.6,313.6L278.1,313.3L279.5,313.0L281.0,312.8L282.5,312.5L284.0,312.2L285.5,312.0L287.0,311.7L288.5,311.5L289.9,311.3L291.4,311.0L292.9,310.8L294.4,310.6L295.9,310.4L297.4,310.2L298.9,310.0L300.4,309.8L301.9,309.6L303.4,309.4L304.9,309.3L306.4,309.1L307.9,308.9L309.4,308.8L310.9,308.6L312.4,308.5L313.9,308.3L315.4,308.2L316.9,308.1L318.4,307.9L319.9,307.8L321.4,307.7L322.9,307.6L324.4,307.5L325.9,307.3L327.5,307.2L329.0,307.1L330.5,307.0L332.0,306.9L333.5,306.8L335.0,306.7L336.5,306.6L338.0,306.6L339.5,306.5L341.0,306.4L342.5,306.3L344.0,306.2L345.5,306.2L347.0,306.1L348.5,306.0L350.0,306.0L351.5,305.9L353.0,305.9L354.5,305.8L356.0,305.8L357.5,305.7L359.0,305.7L360.5,305.6L362.0,305.6L363.5,305.5L365.0,305.5L366.5,305.5L368.0,305.4L369.5,305.4L371.0,305.4L372.5,305.3L374.0,305.3L375.5,305.3L377.0,305.3L378.5,305.3L380.0,305.2L381.5,305.2L383.0,305.2L384.5,305.2L386.0,305.2L387.5,305.2L389.0,305.2L390.5,305.1L392.0,305.1L393.5,305.1L395.0,305.1L396.5,305.1L398.0,305.1L399.5,305.1L401.0,305.1L402.5,305.1L404.0,305.1L405.5,305.1L407.1,305.1L408.6,305.1L410.1,305.1L411.6,305.2L413.1,305.2L414.6,305.2L416.1,305.2L417.6,305.2L419.1,305.2L420.6,305.2L422.1,305.2L423.6,305.2L425.1,305.2L426.6,305.2L428.1,305.2L429.6,305.3L431.1,305.3L432.6,305.3L434.1,305.3L435.6,305.3L437.1,305.3L438.6,305.3L440.2,305.3L441.7,305.3L443.2,305.4L444.7,305.4L446.2,305.4L447.7,305.4L449.2,305.4L450.7,305.4L452.2,305.4L453.7,305.5L455.2,305.5L456.7,305.5L458.2,305.5L459.7,305.5L461.3,305.6L462.8,305.6L464.3,305.6L465.8,305.6L467.3,305.7L468.8,305.7L470.3,305.7L471.8,305.7L473.3,305.8L474.8,305.8L476.3,305.8L477.8,305.9L479.3,305.9L480.9,305.9L482.4,306.0L483.9,306.0L485.4,306.0L486.9,306.1L488.4,306.1L489.9,306.1L491.4,306.2L492.9,306.2L494.4,306.3L495.9,306.3L497.4,306.4L498.9,306.4L500.4,306.5L502.0,306.5L503.5,306.6L505.0,306.6L506.5,306.7L508.0,306.8L509.5,306.8L511.0,306.9L512.5,306.9L514.0,307.0L515.5,307.1L517.0,307.1L518.5,307.2L520.0,307.3L521.5,307.4L523.0,307.4L524.5,307.5L526.0,307.6L527.5,307.7L529.0,307.8L530.5,307.9L532.0,308.0L533.6,308.0L535.1,308.1L536.6,308.2L538.1,308.3L539.6,308.4L541.1,308.5L542.6,308.6L544.1,308.8L545.6,308.9L547.1,309.0L548.6,309.1L550.1,309.2L551.6,309.3L553.1,309.5L554.6,309.6L556.1,309.7L557.6,309.8L559.0,310.0L560.5,310.1L562.0,310.2L563.5,310.4L565.0,310.5L566.5,310.7L568.0,310.8L569.5,311.0L571.0,311.1L572.5,311.3L574.0,311.5L575.5,311.6L577.0,311.8L578.5,312.0L580.0,312.1L581.5,312.3L583.0,312.5L584.4,312.7L585.9,312.8L587.4,313.0L588.9,313.2L590.4,313.4L591.9,313.6L593.4,313.8L594.9,314.0L596.3,314.2L597.8,314.4L599.3,314.7L600.8,314.9L602.3,315.1L603.8,315.3L605.3,315.5L606.7,315.8L608.2,316.0L609.7,316.3L611.2,316.5L612.7,316.7L614.1,317.0L615.6,317.2L617.1,317.5L618.6,317.8L620.0,318.0L621.5,318.3L623.0,318.6L624.5,318.8L626.0,319.1L627.4,319.4L628.9,319.7L632.5,328.1L636.1,335.9L637.2,334.7L638.2,333.5L639.2,332.3L640.1,331.0L641.0,329.7L641.9,328.4L642.8,327.1L643.7,325.8L644.5,324.5L645.4,323.1L646.2,321.8L647.0,320.5L647.9,319.1L648.7,317.8L649.6,316.5L650.5,315.2L651.4,313.9L652.3,312.6L653.3,311.3L654.3,310.1L655.3,308.9" fill="none" stroke="#f77a0d" stroke-width="2.45" stroke-linejoin="round" stroke-linecap="square"/>
<path d="M236.3,130.0L245.3,139.0M236.3,139.0L245.3,130.0" stroke="#f77a0d" stroke-width="1.9" fill="none"/>
<path d="M134.2,306.6L143.2,315.6M134.2,315.6L143.2,306.6" stroke="#f77a0d" stroke-width="1.9" fill="none"/>
<path d="M208.8,336.8L217.8,345.8M208.8,345.8L217.8,336.8" stroke="#f77a0d" stroke-width="1.9" fill="none"/>
<path d="M420.0,300.7L429.0,309.7M420.0,309.7L429.0,300.7" stroke="#f77a0d" stroke-width="1.9" fill="none"/>
<path d="M447.2,270.1L456.2,279.1M447.2,279.1L456.2,270.1" stroke="#f77a0d" stroke-width="1.9" fill="none"/>
<path d="M590.7,309.9L599.7,318.9M590.7,318.9L599.7,309.9" stroke="#f77a0d" stroke-width="1.9" fill="none"/>
<path d="M609.9,304.4L618.9,313.4M609.9,313.4L618.9,304.4" stroke="#f77a0d" stroke-width="1.9" fill="none"/>
<path d="M650.2,303.8L659.2,312.8M650.2,312.8L659.2,303.8" stroke="#f77a0d" stroke-width="1.9" fill="none"/>
<path d="M139.4,427.0L139.4,425.5L139.4,424.0L139.3,422.5L139.3,421.0L139.3,419.5L139.3,418.0L139.3,416.5L139.3,414.9L139.3,413.4L139.2,411.9L139.2,410.4L139.2,408.9L139.2,407.4L139.2,405.9L139.2,404.4L139.2,402.9L139.2,401.4L139.2,399.9L139.2,398.4L139.2,396.9L139.2,395.3L139.2,393.8L139.2,392.3L139.2,390.8L139.3,389.3L139.3,387.8L139.3,386.3L139.3,384.8L139.3,383.3L139.3,381.8L139.3,380.3L139.4,378.8L139.4,377.2L139.4,375.7L139.4,374.2L139.5,372.7L139.5,371.2L139.5,369.7L139.6,368.2L139.6,366.7L139.6,365.2L139.7,363.7L139.7,362.2L139.7,360.6L139.8,359.1L139.8,357.6L139.9,356.1L139.9,354.6L140.0,353.1L140.0,351.6L140.1,350.1L140.1,348.6L140.2,347.1L140.2,345.6L140.3,344.1L140.3,342.5L140.4,341.0L140.5,339.5L140.5,338.0L140.6,336.5L140.7,335.0L140.7,333.5L140.8,332.0L140.9,330.5L140.9,329.0L141.0,327.5L141.1,326.0L141.2,324.4L141.2,322.9L141.3,321.4L141.4,319.9L141.5,318.4L141.6,316.9L141.7,315.4L141.8,313.9L141.9,312.4L142.0,310.9L142.1,309.4L142.2,307.9L142.3,306.4L142.4,304.9L142.5,303.4L142.6,301.9L142.7,300.3L142.8,298.8L142.9,297.3L143.0,295.8L143.1,294.3L143.2,292.8L143.4,291.3L143.5,289.8L143.6,288.3L143.7,286.8L143.9,285.3L144.0,283.8L144.1,282.3L144.2,280.8L144.4,279.3L144.5,277.8L144.7,276.3L144.8,274.8L144.9,273.3L145.1,271.8L145.2,270.3L145.4,268.8L145.5,267.3L145.7,265.8L145.8,264.3L146.0,262.8L146.2,261.3L146.3,259.8L146.5,258.3L146.6,256.8L146.8,255.3L147.0,253.8L147.1,252.3L147.3,250.8L147.5,249.3L147.7,247.8L147.9,246.3L148.0,244.8L148.2,243.3L148.4,241.8L148.6,240.3L148.8,238.8L149.0,237.3L149.2,235.8L149.4,234.3L149.6,232.8L149.8,231.3L150.0,229.8L150.2,228.4L150.4,226.9L150.6,225.4L150.8,223.9L151.0,222.4L151.2,220.9L151.5,219.4L151.7,217.9L151.9,216.4L152.1,214.9L152.4,213.4L152.6,212.0L152.8,210.5L153.0,209.0L153.3,207.5L153.5,206.0L153.8,204.5L154.0,203.0L154.3,201.5L154.5,200.1L154.8,198.6L155.0,197.1L155.3,195.6L155.5,194.1L155.8,192.6L156.0,191.1L156.3,189.7L156.6,188.2L156.8,186.7L157.1,185.2L157.4,183.7L157.7,182.3L158.0,180.8L158.2,179.3L158.5,177.8L158.8,176.3L159.1,174.9L159.4,173.4L159.7,171.9L160.0,170.4L160.3,169.0L160.6,167.5L160.9,166.0L161.2,164.5L161.5,163.1L161.8,161.6L162.1,160.1L162.4,158.6L162.8,157.2L163.1,155.7L163.4,154.2L163.7,152.7L164.1,151.3L164.4,149.8L164.7,148.3L165.1,146.9L165.4,145.4L165.8,143.9L166.1,142.5L166.4,141.0L166.8,139.5L167.2,138.1L167.5,136.6L167.9,135.1L168.2,133.7L168.6,132.2L169.0,130.7L169.3,129.3L169.7,127.8L170.1,126.4L170.5,124.9L170.8,123.4L171.2,122.0L171.6,120.5L172.0,119.1L172.4,117.6L172.8,116.1L173.2,114.7L173.6,113.2L174.0,111.8L174.4,110.3L174.8,108.9L175.2,107.4L175.6,106.0L176.1,104.5L176.5,103.1L176.9,101.6L177.3,100.2L177.8,98.7L178.2,97.3L178.6,95.8L179.1,94.4L179.5,92.9L180.0,91.5L180.4,90.0L180.9,88.6L181.3,87.1L181.8,85.7L182.3,84.2L182.8,82.8L183.3,81.4L183.8,80.0L184.3,78.5L184.8,77.1L185.4,75.7L185.9,74.3L186.5,72.9L187.1,71.5L187.7,70.1L188.3,68.8L188.9,67.4L189.6,66.1L190.2,64.7L190.9,63.4L191.6,62.1L192.4,60.8L193.2,59.5L194.0,58.3L194.8,57.1L195.7,55.9L196.6,54.8L197.6,53.7L198.6,52.6L199.6,51.6L200.7,50.7L201.9,49.8L203.1,49.0L205.2,49.5L205.8,50.9L206.4,52.3L206.9,53.7L207.5,55.1L208.0,56.5L208.5,57.9L208.9,59.4L209.4,60.8L209.8,62.2L210.2,63.7L210.6,65.1L211.0,66.6L211.3,68.0L211.7,69.5L212.0,70.9L212.3,72.4L212.6,73.9L212.9,75.3L213.2,76.8L213.4,78.3L213.7,79.8L213.9,81.2L214.1,82.7L214.4,84.2L214.6,85.7L214.8,87.2L215.0,88.7L215.2,90.2L215.4,91.7L215.6,93.2L215.8,94.7L216.0,96.1L216.2,97.6L216.4,99.1L216.6,100.6L216.7,102.1L216.9,103.6L217.1,105.1L217.3,106.6L217.5,108.1L217.8,109.6L218.0,111.1L218.2,112.6L218.4,114.1L218.7,115.5L218.9,117.0L219.2,118.5L219.5,120.0L219.7,121.5L220.0,122.9L220.4,124.4L220.7,125.9L221.0,127.3L221.4,128.8L221.7,130.2L222.1,131.7L222.5,133.1L222.9,134.6L223.4,136.0L223.8,137.4L224.2,138.9L224.7,140.3L225.2,141.7L225.7,143.1L226.2,144.5L226.7,145.9L227.2,147.3L227.8,148.7L228.3,150.1L228.9,151.5L229.5,152.9L230.1,154.3L230.7,155.7L231.3,157.0L231.9,158.4L232.6,159.8L233.2,161.1L233.9,162.5L234.6,163.8L235.3,165.2L236.0,166.5L236.7,167.8L237.4,169.1L238.1,170.5L238.9,171.8L239.6,173.1L240.4,174.4L241.2,175.7L242.0,177.0L242.7,178.2L243.6,179.5L244.4,180.8L245.2,182.1L246.0,183.3L246.9,184.6L247.7,185.8L248.6,187.1L249.5,188.3L250.4,189.5L251.3,190.7L252.2,191.9L253.1,193.2L254.0,194.4L254.9,195.5L255.9,196.7L256.8,197.9L257.8,199.1L258.7,200.2L259.7,201.4L260.7,202.5L261.7,203.6L262.7,204.7L263.7,205.9L264.8,206.9L265.8,208.0L266.8,209.1L267.9,210.2L269.0,211.2L270.0,212.3L271.1,213.3L272.2,214.3L273.3,215.3L274.4,216.3L275.6,217.3L276.7,218.2L277.8,219.2L279.0,220.1L280.2,221.0L281.3,221.9L282.5,222.8L283.7,223.7L284.9,224.6L286.2,225.4L287.4,226.2L288.6,227.1L289.9,227.9L291.1,228.6L292.4,229.4L293.7,230.2L295.0,230.9L296.3,231.6L297.6,232.3L298.9,233.0L300.2,233.6L301.6,234.3L302.9,234.9L304.3,235.5L305.6,236.1L307.0,236.7L308.4,237.3L309.8,237.9L311.2,238.4L312.6,239.0L314.0,239.5L315.4,240.0L316.8,240.5L318.2,241.0L319.7,241.5L321.1,242.0L322.5,242.4L324.0,242.9L325.4,243.3L326.9,243.8L328.3,244.2L329.8,244.6L331.3,245.0L332.7,245.4L334.2,245.8L335.7,246.2L337.2,246.6L338.6,247.0L340.1,247.3L341.6,247.7L343.1,248.1L344.6,248.4L346.0,248.8L347.5,249.1L349.0,249.5L350.5,249.8L352.0,250.1L353.5,250.5L354.9,250.8L356.4,251.1L357.9,251.5L359.4,251.8L360.9,252.1L362.3,252.4L363.8,252.8L365.3,253.1L366.8,253.4L368.3,253.7L369.7,254.0L371.2,254.3L372.7,254.6L374.2,254.9L375.6,255.2L377.1,255.5L378.6,255.8L380.1,256.1L381.5,256.4L383.0,256.7L384.5,257.0L386.0,257.3L387.5,257.5L388.9,257.8L390.4,258.1L391.9,258.4L393.4,258.7L394.8,258.9L396.3,259.2L397.8,259.5L399.3,259.7L400.7,260.0L402.2,260.2L403.7,260.5L405.2,260.8L406.6,261.0L408.1,261.3L409.6,261.5L411.1,261.8L412.5,262.0L414.0,262.2L415.5,262.5L417.0,262.7L418.4,263.0L419.9,263.2L421.4,263.4L422.9,263.7L424.4,263.9L425.8,264.1L427.3,264.4L428.8,264.6L430.3,264.8L431.8,265.0L433.2,265.2L434.7,265.5L436.2,265.7L437.7,265.9L439.2,266.1L440.6,266.3L442.1,266.5L443.6,266.7L445.1,266.9L446.6,267.1L448.1,267.3L449.5,267.5L451.0,267.7L452.5,267.9L454.0,268.1L455.5,268.3L457.0,268.5L458.5,268.7L460.0,268.9L461.4,269.1L462.9,269.3L464.4,269.5L465.9,269.6L467.4,269.8L468.9,270.0L470.4,270.2L471.9,270.4L473.4,270.5L474.9,270.7L476.4,270.9L477.9,271.1L479.4,271.2L480.9,271.4L482.4,271.6L483.9,271.8L485.4,271.9L486.9,272.1L488.4,272.3L489.9,272.4L491.4,272.6L492.9,272.8L494.4,272.9L495.9,273.1L497.4,273.2L498.9,273.4L500.4,273.6L501.9,273.7L503.4,273.9L504.9,274.0L506.4,274.2L507.9,274.3L509.4,274.5L510.9,274.7L512.4,274.8L513.9,275.0L515.4,275.1L516.9,275.3L518.4,275.4L519.9,275.6L521.4,275.7L522.9,275.9L524.4,276.0L525.9,276.2L527.4,276.3L528.9,276.5L530.4,276.6L531.9,276.8L533.4,276.9L534.9,277.1L536.4,277.2L537.9,277.4L539.4,277.5L540.9,277.7L542.4,277.8L543.9,278.0L545.4,278.1L546.9,278.3L548.4,278.4L549.9,278.6L551.4,278.7L552.9,278.9L554.4,279.0L555.9,279.2L557.4,279.3L558.9,279.4L560.4,279.6L561.9,279.7L563.4,279.9L564.9,280.0L566.4,280.2L567.9,280.4L569.4,280.5L570.9,280.7L572.4,280.8L573.8,281.0L575.3,281.1L576.8,281.3L578.3,281.4L579.8,281.6L581.3,281.7L582.8,281.9L584.3,282.0L585.8,282.2L587.3,282.4L588.8,282.5L590.3,282.7L591.7,282.8L593.2,283.0L594.7,283.2L596.2,283.3L597.7,283.5L599.2,283.7L600.7,283.8L602.2,284.0L603.6,284.2L605.1,284.3L606.6,284.5L608.1,284.7L609.6,284.8L611.1,285.0L612.5,285.2L614.0,285.4L615.5,285.5L617.0,285.7L618.5,285.9L620.0,286.1L621.4,286.3L622.9,286.5L624.3,287.0L625.6,287.7L626.7,288.7L627.7,290.2L631.3,289.0L645.7,289.0L656.5,289.6" fill="none" stroke="#ba05ba" stroke-width="2.45" stroke-linejoin="round" stroke-linecap="square"/>
<path d="M139.4,427.0L139.9,425.6L140.4,424.2L140.8,422.8L141.2,421.4L141.6,420.0L141.9,418.5L142.2,417.1L142.6,415.6L142.8,414.1L143.1,412.6L143.4,411.1L143.6,409.6L143.8,408.1L144.1,406.6L144.3,405.1L144.5,403.6L144.7,402.1L144.9,400.6L145.1,399.0L145.3,397.5L145.5,396.0L145.7,394.5L145.9,392.9L146.1,391.4L146.3,389.9L146.6,388.4L146.8,386.9L147.1,385.4L147.4,383.9L147.7,382.4L148.0,380.9L148.4,379.4L148.8,377.9L149.2,376.5L149.6,375.0L150.1,373.6L150.5,372.2L151.1,370.8L151.6,369.4L152.2,368.0L152.9,366.7L153.6,365.3L154.3,364.0L155.0,362.8L155.8,361.5L156.7,360.4L157.6,359.2L158.5,358.1L159.5,357.0L160.5,356.0L161.6,355.0L162.7,354.1L163.9,353.3L165.1,352.5L166.4,351.7L167.7,351.0L169.0,350.3L170.4,349.6L171.7,349.0L173.1,348.3L174.5,347.7L175.9,347.0L177.3,346.3L178.6,345.7L180.0,345.0L181.3,344.3L182.6,343.5L184.0,342.8L185.3,342.1L186.6,341.3L187.9,340.6L189.2,339.8L190.5,339.0L191.7,338.2L193.0,337.5L194.3,336.7L195.5,335.9L196.8,335.0L198.1,334.2L199.3,333.4L200.6,332.6L201.8,331.8L203.1,330.9L204.3,330.1L205.5,329.3L206.8,328.4L208.0,327.6L209.3,326.8L210.5,325.9L211.8,325.1L213.0,324.3L214.3,323.4L215.5,322.6L216.8,321.8L218.0,321.0L219.3,320.1L220.5,319.3L221.8,318.5L223.1,317.7L224.3,316.9L225.6,316.1L226.9,315.4L228.2,314.6L229.5,313.8L230.8,313.1L232.1,312.3L233.4,311.6L234.7,310.9L236.1,310.1L237.4,309.4L238.7,308.7L240.1,308.0L241.4,307.4L242.8,306.7L244.1,306.0L245.5,305.4L246.9,304.8L248.2,304.1L249.6,303.5L251.0,302.9L252.4,302.3L253.8,301.7L255.1,301.2L256.5,300.6L257.9,300.1L259.4,299.6L260.8,299.1L262.2,298.6L263.6,298.1L265.0,297.6L266.4,297.2L267.9,296.7L269.3,296.3L270.8,295.9L272.2,295.5L273.6,295.1L275.1,294.7L276.5,294.4L278.0,294.0L279.5,293.7L280.9,293.4L282.4,293.1L283.9,292.8L285.3,292.5L286.8,292.2L288.3,291.9L289.8,291.7L291.2,291.5L292.7,291.2L294.2,291.0L295.7,290.8L297.2,290.6L298.7,290.4L300.2,290.2L301.7,290.0L303.2,289.9L304.7,289.7L306.2,289.5L307.7,289.4L309.2,289.2L310.7,289.1L312.2,289.0L313.7,288.9L315.2,288.8L316.7,288.6L318.2,288.5L319.8,288.4L321.3,288.3L322.8,288.3L324.3,288.2L325.8,288.1L327.3,288.0L328.8,287.9L330.3,287.9L331.9,287.8L333.4,287.7L334.9,287.7L336.4,287.6L337.9,287.6L339.4,287.5L340.9,287.5L342.4,287.4L344.0,287.4L345.5,287.3L347.0,287.3L348.5,287.2L350.0,287.2L351.5,287.1L353.0,287.1L354.5,287.1L356.0,287.0L357.5,287.0L359.0,287.0L360.6,287.0L362.1,286.9L363.6,286.9L365.1,286.9L366.6,286.9L368.1,286.9L369.6,286.8L371.1,286.8L372.6,286.8L374.1,286.8L375.6,286.8L377.1,286.8L378.6,286.8L380.1,286.8L381.6,286.8L383.1,286.8L384.6,286.8L386.1,286.8L387.6,286.8L389.2,286.8L390.7,286.8L392.2,286.8L393.7,286.8L395.2,286.8L396.7,286.9L398.2,286.9L399.7,286.9L401.2,286.9L402.7,286.9L404.2,287.0L405.7,287.0L407.2,287.0L408.7,287.0L410.2,287.1L411.7,287.1L413.2,287.1L414.7,287.1L416.2,287.2L417.7,287.2L419.2,287.3L420.7,287.3L422.2,287.3L423.7,287.4L425.2,287.4L426.7,287.5L428.2,287.5L429.7,287.5L431.2,287.6L432.7,287.6L434.2,287.7L435.7,287.7L437.2,287.8L438.7,287.8L440.2,287.9L441.7,287.9L443.2,288.0L444.7,288.1L446.2,288.1L447.7,288.2L449.2,288.2L450.7,288.3L452.2,288.4L453.7,288.4L455.2,288.5L456.7,288.5L458.2,288.6L459.7,288.7L461.2,288.7L462.7,288.8L464.2,288.9L465.7,289.0L467.2,289.0L468.7,289.1L470.2,289.2L471.7,289.2L473.2,289.3L474.7,289.4L476.2,289.5L477.7,289.5L479.2,289.6L480.7,289.7L482.2,289.8L483.7,289.9L485.2,289.9L486.8,290.0L488.3,290.1L489.8,290.2L491.3,290.3L492.8,290.3L494.3,290.4L495.8,290.5L497.3,290.6L498.8,290.7L500.3,290.8L501.8,290.8L503.3,290.9L504.8,291.0L506.3,291.1L507.8,291.2L509.3,291.3L510.8,291.4L512.3,291.5L513.8,291.6L515.4,291.7L516.9,291.8L518.4,291.9L519.9,292.0L521.4,292.0L522.9,292.1L524.4,292.2L525.9,292.3L527.4,292.5L528.9,292.6L530.4,292.7L531.9,292.8L533.4,292.9L534.9,293.0L536.4,293.1L537.9,293.2L539.4,293.3L540.9,293.4L542.5,293.5L544.0,293.7L545.5,293.8L547.0,293.9L548.5,294.0L550.0,294.1L551.5,294.3L553.0,294.4L554.5,294.5L556.0,294.6L557.5,294.8L559.0,294.9L560.5,295.0L562.0,295.2L563.5,295.3L565.0,295.4L566.5,295.6L568.0,295.7L569.5,295.9L571.0,296.0L572.5,296.2L574.0,296.3L575.5,296.5L577.0,296.6L578.4,296.8L579.9,296.9L581.4,297.1L582.9,297.2L584.4,297.4L585.9,297.6L587.4,297.7L588.9,297.9L590.4,298.1L591.9,298.2L593.4,298.4L594.8,298.6L596.3,298.8L597.8,298.9L599.3,299.1L600.8,299.3L602.3,299.5L603.8,299.7L605.2,299.9L606.7,300.1L608.2,300.3L609.7,300.5L611.2,300.7L612.6,300.9L614.1,301.1L615.6,301.3L617.1,301.5L618.5,301.7L620.0,301.9L621.5,302.1L623.0,302.4L624.4,302.6L625.9,302.8L629.5,308.9L633.7,320.9L635.1,320.0L636.4,319.0L637.7,318.0L638.9,316.8L640.0,315.7L641.2,314.4L642.2,313.2L643.3,311.9L644.3,310.6L645.3,309.3L646.3,307.9L647.3,306.6L648.4,305.3L649.4,304.0L650.5,302.8L656.5,301.6" fill="none" stroke="#ba05ba" stroke-width="2.45" stroke-linejoin="round" stroke-linecap="square"/>
<path d="M158.7,153.3H167.7M163.2,148.8V157.8" stroke="#ba05ba" stroke-width="1.9" fill="none"/>
<path d="M222.5,148.3H231.5M227.0,143.8V152.8" stroke="#ba05ba" stroke-width="1.9" fill="none"/>
<path d="M136.1,336.8H145.1M140.6,332.3V341.3" stroke="#ba05ba" stroke-width="1.9" fill="none"/>
<path d="M142.8,387.3H151.8M147.3,382.8V391.8" stroke="#ba05ba" stroke-width="1.9" fill="none"/>
<path d="M177.5,343.6H186.5M182.0,339.1V348.1" stroke="#ba05ba" stroke-width="1.9" fill="none"/>
<path d="M261.1,297.5H270.1M265.6,293.0V302.0" stroke="#ba05ba" stroke-width="1.9" fill="none"/>
<path d="M362.3,253.6H371.3M366.8,249.1V258.1" stroke="#ba05ba" stroke-width="1.9" fill="none"/>
<path d="M454.4,289.5H463.4M458.9,285.0V294.0" stroke="#ba05ba" stroke-width="1.9" fill="none"/>
<path d="M593.5,284.0H602.5M598.0,279.5V288.5" stroke="#ba05ba" stroke-width="1.9" fill="none"/>
<path d="M641.8,289.4H650.8M646.3,284.9V293.9" stroke="#ba05ba" stroke-width="1.9" fill="none"/>
<path d="M641.8,307.7H650.8M646.3,303.2V312.2" stroke="#ba05ba" stroke-width="1.9" fill="none"/>
<path d="M139.4,427.0L139.4,425.5L139.4,424.0L139.4,422.5L139.4,421.0L139.4,419.5L139.4,418.0L139.4,416.5L139.4,414.9L139.4,413.4L139.4,411.9L139.4,410.4L139.4,408.9L139.4,407.4L139.5,405.9L139.5,404.4L139.5,402.9L139.5,401.4L139.5,399.9L139.5,398.3L139.5,396.8L139.5,395.3L139.5,393.8L139.6,392.3L139.6,390.8L139.6,389.3L139.6,387.8L139.6,386.3L139.6,384.7L139.7,383.2L139.7,381.7L139.7,380.2L139.7,378.7L139.8,377.2L139.8,375.7L139.8,374.2L139.8,372.7L139.9,371.1L139.9,369.6L139.9,368.1L140.0,366.6L140.0,365.1L140.0,363.6L140.1,362.1L140.1,360.5L140.1,359.0L140.2,357.5L140.2,356.0L140.2,354.5L140.3,353.0L140.3,351.5L140.4,350.0L140.4,348.4L140.5,346.9L140.5,345.4L140.5,343.9L140.6,342.4L140.6,340.9L140.7,339.4L140.8,337.8L140.8,336.3L140.9,334.8L140.9,333.3L141.0,331.8L141.0,330.3L141.1,328.8L141.2,327.3L141.2,325.7L141.3,324.2L141.4,322.7L141.4,321.2L141.5,319.7L141.6,318.2L141.6,316.7L141.7,315.2L141.8,313.6L141.9,312.1L142.0,310.6L142.0,309.1L142.1,307.6L142.2,306.1L142.3,304.6L142.4,303.1L142.5,301.5L142.6,300.0L142.6,298.5L142.7,297.0L142.8,295.5L142.9,294.0L143.0,292.5L143.1,291.0L143.2,289.5L143.3,287.9L143.4,286.4L143.5,284.9L143.7,283.4L143.8,281.9L143.9,280.4L144.0,278.9L144.1,277.4L144.2,275.9L144.4,274.4L144.5,272.9L144.6,271.3L144.7,269.8L144.9,268.3L145.0,266.8L145.1,265.3L145.2,263.8L145.4,262.3L145.5,260.8L145.7,259.3L145.8,257.8L145.9,256.3L146.1,254.8L146.2,253.3L146.4,251.8L146.5,250.3L146.7,248.8L146.9,247.3L147.0,245.8L147.2,244.3L147.3,242.8L147.5,241.2L147.7,239.7L147.8,238.2L148.0,236.7L148.2,235.2L148.4,233.7L148.5,232.2L148.7,230.7L148.9,229.2L149.1,227.7L149.3,226.2L149.5,224.7L149.7,223.3L149.9,221.8L150.1,220.3L150.3,218.8L150.5,217.3L150.7,215.8L150.9,214.3L151.1,212.8L151.3,211.3L151.5,209.8L151.7,208.3L151.9,206.8L152.2,205.3L152.4,203.8L152.6,202.3L152.8,200.8L153.1,199.3L153.3,197.9L153.5,196.4L153.8,194.9L154.0,193.4L154.3,191.9L154.5,190.4L154.8,188.9L155.0,187.4L155.3,186.0L155.5,184.5L155.8,183.0L156.1,181.5L156.3,180.0L156.6,178.5L156.9,177.0L157.1,175.6L157.4,174.1L157.7,172.6L158.0,171.1L158.3,169.6L158.6,168.2L158.8,166.7L159.1,165.2L159.4,163.7L159.7,162.2L160.0,160.8L160.3,159.3L160.7,157.8L161.0,156.3L161.3,154.9L161.6,153.4L161.9,151.9L162.2,150.4L162.6,149.0L162.9,147.5L163.2,146.0L163.6,144.5L163.9,143.1L164.2,141.6L164.6,140.1L164.9,138.6L165.3,137.2L165.6,135.7L166.0,134.2L166.4,132.7L166.7,131.3L167.1,129.8L167.4,128.3L167.8,126.8L168.2,125.4L168.6,123.9L169.0,122.4L169.3,120.9L169.7,119.5L170.1,118.0L170.5,116.5L170.9,115.0L171.3,113.5L171.7,112.1L172.1,110.6L172.5,109.1L173.0,107.6L173.4,106.2L173.8,104.7L174.3,103.3L174.8,101.8L175.3,100.4L175.8,99.0L176.4,97.6L176.9,96.2L177.5,94.9L178.2,93.5L178.8,92.2L179.5,90.9L180.2,89.6L180.9,88.3L181.7,87.1L182.5,85.9L183.4,84.7L184.3,83.5L185.2,82.4L186.2,81.3L187.2,80.2L188.3,79.2L189.4,78.2L190.6,77.2L191.7,78.2L192.8,79.3L193.7,80.4L194.7,81.5L195.6,82.7L196.4,83.8L197.2,85.1L198.0,86.3L198.7,87.6L199.4,88.9L200.1,90.2L200.7,91.6L201.4,92.9L201.9,94.3L202.5,95.7L203.0,97.1L203.6,98.5L204.1,99.9L204.6,101.3L205.1,102.7L205.5,104.2L206.0,105.6L206.4,107.1L206.9,108.5L207.3,110.0L207.7,111.4L208.1,112.9L208.5,114.4L208.9,115.8L209.3,117.3L209.7,118.8L210.1,120.3L210.4,121.7L210.8,123.2L211.2,124.7L211.5,126.2L211.9,127.7L212.3,129.2L212.6,130.7L213.0,132.2L213.4,133.6L213.7,135.1L214.1,136.6L214.5,138.1L214.9,139.6L215.3,141.0L215.7,142.5L216.1,144.0L216.5,145.5L216.9,146.9L217.3,148.4L217.8,149.8L218.2,151.3L218.6,152.7L219.1,154.2L219.5,155.6L220.0,157.1L220.4,158.5L220.9,160.0L221.4,161.4L221.9,162.8L222.4,164.3L222.8,165.7L223.3,167.1L223.8,168.6L224.3,170.0L224.9,171.4L225.4,172.8L225.9,174.3L226.4,175.7L226.9,177.1L227.5,178.5L228.0,179.9L228.6,181.3L229.1,182.7L229.7,184.2L230.2,185.6L230.8,187.0L231.3,188.4L231.9,189.8L232.5,191.2L233.0,192.6L233.6,194.0L234.2,195.4L234.8,196.8L235.4,198.2L235.9,199.6L236.5,201.0L237.1,202.4L237.7,203.8L238.3,205.1L238.9,206.5L239.5,207.9L240.2,209.3L240.8,210.7L241.4,212.1L242.0,213.5L243.0,214.7L244.0,215.8L245.1,216.9L246.1,218.0L247.2,219.0L248.3,220.0L249.4,221.0L250.6,222.0L251.7,223.0L252.9,223.9L254.0,224.8L255.2,225.7L256.4,226.6L257.6,227.5L258.9,228.3L260.1,229.1L261.3,230.0L262.6,230.8L263.8,231.6L265.1,232.3L266.4,233.1L267.7,233.9L269.0,234.6L270.3,235.3L271.6,236.1L272.9,236.8L274.2,237.5L275.6,238.2L276.9,238.9L278.2,239.7L279.6,240.3L280.9,241.0L282.2,241.7L283.6,242.4L285.0,243.1L286.3,243.7L287.7,244.4L289.1,245.0L290.4,245.7L291.8,246.3L293.2,246.9L294.6,247.6L296.0,248.2L297.4,248.8L298.8,249.4L300.2,249.9L301.6,250.5L303.0,251.1L304.4,251.6L305.8,252.2L307.2,252.7L308.6,253.2L310.1,253.7L311.5,254.2L312.9,254.7L314.3,255.2L315.8,255.7L317.2,256.1L318.7,256.6L320.1,257.0L321.5,257.4L323.0,257.8L324.4,258.2L325.9,258.6L327.4,259.0L328.8,259.3L330.3,259.7L331.7,260.0L333.2,260.3L334.7,260.6L336.1,260.9L337.6,261.2L339.1,261.5L340.6,261.7L342.0,262.0L343.5,262.2L345.0,262.4L346.5,262.6L347.9,262.8L349.4,263.0L350.9,263.2L352.4,263.3L353.9,263.5L355.4,263.6L356.9,263.8L358.4,263.9L359.8,264.0L361.3,264.1L362.8,264.2L364.3,264.3L365.8,264.4L367.3,264.5L368.8,264.5L370.3,264.6L371.8,264.6L373.3,264.7L374.8,264.7L376.3,264.8L377.8,264.8L379.3,264.8L380.8,264.8L382.4,264.8L383.9,264.8L385.4,264.8L386.9,264.8L388.4,264.8L389.9,264.8L391.4,264.7L392.9,264.7L394.4,264.7L395.9,264.6L397.4,264.6L398.9,264.6L400.4,264.5L402.0,264.5L403.5,264.4L405.0,264.4L406.5,264.3L408.0,264.2L409.5,264.2L411.0,264.1L412.5,264.1L414.0,264.0L415.5,263.9L417.0,263.9L418.5,263.8L420.1,263.7L421.6,263.6L423.1,263.6L424.6,263.5L426.1,263.4L427.6,263.3L429.1,263.2L430.6,263.2L432.1,263.1L433.6,263.0L435.1,262.9L436.6,262.8L438.1,262.7L439.6,262.7L441.2,262.6L442.7,262.5L444.2,262.4L445.7,262.3L447.2,262.2L448.7,262.1L450.2,262.0L451.7,261.9L453.2,261.8L454.7,261.7L456.2,261.6L457.7,261.5L459.2,261.5L460.7,261.4L462.2,261.3L463.7,261.2L465.2,261.1L466.7,261.0L468.2,260.9L469.8,260.8L471.3,260.7L472.8,260.6L474.3,260.5L475.8,260.4L477.3,260.3L478.8,260.2L480.3,260.2L481.8,260.1L483.3,260.0L484.8,259.9L486.3,259.8L487.8,259.7L489.3,259.6L490.8,259.5L492.3,259.5L493.8,259.4L495.3,259.3L496.8,259.2L498.3,259.1L499.8,259.1L501.3,259.0L502.8,258.9L504.3,258.8L505.8,258.8L507.3,258.7L508.8,258.6L510.3,258.6L511.9,258.5L513.4,258.4L514.9,258.4L516.4,258.3L517.9,258.3L519.4,258.2L520.9,258.2L522.4,258.1L523.9,258.1L525.4,258.0L526.9,258.0L528.4,257.9L529.9,257.9L531.4,257.9L532.9,257.8L534.4,257.8L535.9,257.8L537.4,257.8L538.9,257.7L540.4,257.7L541.9,257.7L543.4,257.7L544.9,257.7L546.4,257.7L547.9,257.7L549.4,257.7L550.9,257.7L552.4,257.7L553.9,257.7L555.4,257.7L556.9,257.7L558.4,257.7L559.9,257.8L561.4,257.8L562.9,257.8L564.4,257.9L565.9,257.9L567.4,257.9L568.9,258.0L570.4,258.0L571.9,258.1L573.4,258.1L574.9,258.2L576.4,258.3L577.9,258.3L579.5,258.4L581.0,258.5L582.5,258.6L584.0,258.7L585.5,258.8L587.0,258.9L588.5,259.0L590.0,259.1L591.5,259.2L593.0,259.3L594.5,259.4L596.0,259.6L597.5,259.7L599.0,259.8L600.5,260.0L602.0,260.1L603.5,260.3L605.0,260.4L606.5,260.6L608.0,260.8L609.5,260.9L611.0,261.1L612.5,261.3L614.0,261.5L622.0,259.8L624.8,260.6L627.6,255.4L628.0,256.9L628.3,258.4L628.6,259.8L629.0,261.3L629.3,262.8L629.5,264.3L629.8,265.8L630.1,267.3L630.3,268.8L630.5,270.3L630.8,271.8L631.0,273.3L631.2,274.8L631.4,276.3L631.6,277.8L631.8,279.4L631.9,280.9L632.1,282.4L632.3,283.9L632.5,285.4L632.6,286.9L632.8,288.4L633.0,289.9L633.2,291.5L633.3,293.0L633.5,294.5L633.7,296.0L633.9,297.5L634.1,299.0L634.3,300.5L634.5,302.0L634.7,303.5L634.9,305.1L635.2,306.6L635.4,308.1L635.6,309.6L635.9,311.1L636.1,312.6L636.3,314.1L636.6,315.6L636.8,317.1L637.1,318.6L637.3,320.1L637.6,321.6L637.8,323.1L638.1,324.6L638.3,326.1L638.6,327.6L638.8,329.1L639.1,330.6L639.3,332.1L639.6,333.6L639.8,335.1L640.0,336.6L640.3,338.1L640.5,339.6L640.8,341.1L641.0,342.6L641.2,344.1L641.5,345.6L641.7,347.1L641.9,348.6L642.1,350.1L642.3,351.6L642.6,353.1L642.8,354.6L643.0,356.2L643.2,357.7L643.4,359.2L643.6,360.7L643.8,362.2L644.0,363.7L644.2,365.2L644.4,366.7L644.5,368.2L644.7,369.7L644.9,371.3L645.1,372.8L645.2,374.3L645.4,375.8L645.5,377.3L645.7,378.8L645.8,380.3L646.0,381.9L646.1,383.4L646.3,384.9L646.4,386.4L646.6,387.9L646.7,389.4L646.8,391.0L647.0,392.5L647.1,394.0L647.3,395.5L647.4,397.0L647.6,398.6L647.8,400.1L647.9,401.6L648.1,403.1L650.3,405.4L651.8,416.7" fill="none" stroke="#04b7b9" stroke-width="2.45" stroke-linejoin="round" stroke-linecap="square"/>
<path d="M139.4,427.0L139.9,425.6L140.4,424.2L140.9,422.8L141.3,421.4L141.7,420.0L142.1,418.5L142.4,417.1L142.8,415.6L143.1,414.1L143.4,412.7L143.7,411.2L144.0,409.7L144.2,408.2L144.5,406.7L144.7,405.2L145.0,403.7L145.2,402.2L145.4,400.7L145.7,399.2L145.9,397.7L146.1,396.1L146.4,394.6L146.6,393.1L146.9,391.6L147.2,390.1L147.5,388.6L147.8,387.2L148.1,385.7L148.5,384.2L148.8,382.7L149.2,381.3L149.6,379.8L150.1,378.4L150.6,377.0L151.1,375.5L151.6,374.1L152.2,372.7L152.8,371.4L153.4,370.0L154.1,368.7L154.8,367.4L155.6,366.1L156.4,364.8L157.2,363.6L158.1,362.4L159.0,361.3L160.0,360.1L161.0,359.1L162.0,358.0L163.1,357.0L164.3,356.1L165.5,355.2L166.7,354.4L168.0,353.6L169.2,352.8L170.6,352.0L171.9,351.3L173.2,350.6L174.6,349.9L175.9,349.2L177.3,348.5L178.6,347.8L180.0,347.0L181.3,346.3L182.6,345.6L183.9,344.8L185.2,344.0L186.5,343.3L187.8,342.5L189.1,341.7L190.3,340.9L191.6,340.1L192.9,339.3L194.1,338.5L195.4,337.7L196.6,336.9L197.9,336.0L199.1,335.2L200.4,334.4L201.6,333.6L202.9,332.7L204.1,331.9L205.4,331.1L206.6,330.3L207.9,329.5L209.1,328.6L210.4,327.8L211.6,327.0L212.9,326.2L214.2,325.4L215.5,324.6L216.7,323.8L218.0,323.0L219.3,322.2L220.6,321.4L221.9,320.7L223.2,319.9L224.5,319.1L225.8,318.4L227.1,317.6L228.5,316.9L229.8,316.1L231.1,315.4L232.4,314.7L233.8,314.0L235.1,313.3L236.4,312.6L237.8,311.9L239.1,311.2L240.5,310.5L241.8,309.9L243.2,309.2L244.6,308.6L245.9,307.9L247.3,307.3L248.7,306.7L250.0,306.1L251.4,305.5L252.8,304.9L254.2,304.4L255.6,303.8L257.0,303.3L258.4,302.8L259.8,302.2L261.2,301.7L262.6,301.3L264.0,300.8L265.4,300.3L266.9,299.9L268.3,299.4L269.7,299.0L271.1,298.6L272.6,298.2L274.0,297.8L275.4,297.4L276.9,297.1L278.3,296.7L279.8,296.4L281.2,296.0L282.7,295.7L284.1,295.4L285.6,295.1L287.1,294.8L288.5,294.6L290.0,294.3L291.5,294.0L292.9,293.8L294.4,293.5L295.9,293.3L297.4,293.1L298.8,292.9L300.3,292.7L301.8,292.5L303.3,292.3L304.8,292.1L306.3,292.0L307.8,291.8L309.3,291.6L310.8,291.5L312.3,291.4L313.8,291.2L315.3,291.1L316.8,291.0L318.3,290.9L319.8,290.8L321.3,290.7L322.8,290.6L324.3,290.5L325.8,290.4L327.3,290.4L328.8,290.3L330.4,290.3L331.9,290.2L333.4,290.2L334.9,290.1L336.4,290.1L337.9,290.0L339.5,290.0L341.0,290.0L342.5,290.0L344.0,290.0L345.5,289.9L347.1,289.9L348.6,289.9L350.1,289.9L351.6,289.9L353.2,289.9L354.7,289.9L356.2,290.0L357.7,290.0L359.3,290.0L360.8,290.0L362.3,290.0L363.8,290.0L365.4,290.1L366.9,290.1L368.4,290.1L369.9,290.1L371.5,290.2L373.0,290.2L374.5,290.2L376.0,290.3L377.6,290.3L379.1,290.3L380.6,290.4L382.1,290.4L383.6,290.4L385.2,290.5L386.7,290.5L388.2,290.5L389.7,290.5L391.2,290.6L392.7,290.6L394.2,290.6L395.7,290.7L397.3,290.7L398.8,290.7L400.3,290.7L401.8,290.7L403.3,290.7L404.8,290.8L406.3,290.8L407.8,290.8L409.3,290.8L410.8,290.8L412.3,290.8L413.8,290.8L415.3,290.8L416.8,290.8L418.3,290.9L419.8,290.9L421.3,290.9L422.8,290.9L424.2,290.9L425.7,290.9L427.2,290.9L428.7,290.9L430.2,290.9L431.7,290.9L433.2,290.9L434.7,290.9L436.2,290.9L437.7,290.9L439.1,291.0L440.6,291.0L442.1,291.0L443.6,291.0L445.1,291.0L446.6,291.0L448.1,291.0L449.6,291.0L451.0,291.1L452.5,291.1L454.0,291.1L455.5,291.1L457.0,291.1L458.5,291.2L460.0,291.2L461.5,291.2L462.9,291.3L464.4,291.3L465.9,291.3L467.4,291.4L468.9,291.4L470.4,291.4L471.9,291.5L473.4,291.5L474.9,291.6L476.4,291.6L477.9,291.7L479.3,291.8L480.8,291.8L482.3,291.9L483.8,292.0L485.3,292.0L486.8,292.1L488.3,292.2L489.8,292.3L491.3,292.3L492.8,292.4L494.3,292.5L495.8,292.6L497.3,292.7L498.8,292.8L500.4,292.9L501.9,293.0L503.4,293.1L504.9,293.2L506.4,293.4L507.9,293.5L509.4,293.6L510.9,293.7L512.4,293.8L513.9,293.9L515.4,294.1L516.9,294.2L518.5,294.3L520.0,294.4L521.5,294.6L523.0,294.7L524.5,294.8L526.0,294.9L527.5,295.0L529.0,295.2L530.5,295.3L532.1,295.4L533.6,295.5L535.1,295.6L536.6,295.8L538.1,295.9L539.6,296.0L541.1,296.1L542.6,296.2L544.1,296.3L545.6,296.4L547.1,296.5L548.6,296.6L550.1,296.7L551.6,296.8L553.1,296.9L554.6,296.9L556.1,297.0L557.6,297.1L559.1,297.2L560.6,297.2L562.1,297.3L563.6,297.4L565.1,297.4L566.6,297.5L568.1,297.5L569.6,297.5L571.1,297.6L572.6,297.6L574.1,297.6L575.6,297.6L577.1,297.6L578.6,297.6L580.0,297.6L581.5,297.6L583.0,297.5L584.5,297.5L586.0,297.5L587.5,297.4L589.0,297.3L590.5,297.3L592.0,297.2L593.5,297.1L595.1,297.0L596.6,296.9L598.1,296.8L599.6,296.6L601.1,296.5L602.2,295.4L603.3,294.2L604.3,293.1L605.3,291.9L606.4,290.6L607.4,289.4L608.4,288.2L609.4,287.0L610.5,285.8L611.6,284.7L612.7,283.5L613.8,282.5L615.0,281.5L616.2,280.5L617.5,279.6L618.9,278.9L620.3,278.2L621.8,277.6L623.4,277.1L624.6,268.2L628.4,263.5L633.2,269.0L634.8,268.7L636.4,268.8L637.9,269.2L639.4,270.0L640.8,270.9L642.1,272.0L643.5,273.2L644.8,274.4L646.1,275.6L647.4,276.8L648.8,277.8L650.1,278.7L652.5,272.2L652.5,273.7L652.5,275.2L652.5,276.8L652.4,278.3L652.4,279.8L652.4,281.3L652.4,282.8L652.4,284.4L652.4,285.9L652.4,287.4L652.4,288.9L652.4,290.5L652.4,292.0L652.4,293.5L652.4,295.0L652.4,296.5L652.3,298.1L652.3,299.6L652.3,301.1L652.3,302.6L652.3,304.1L652.3,305.7L652.3,307.2L652.3,308.7L652.3,310.2L652.3,311.7L652.3,313.3L652.3,314.8L652.3,316.3L652.3,317.8L652.3,319.4L652.3,320.9L652.3,322.4L652.3,323.9L652.3,325.4L652.3,327.0L652.3,328.5L652.3,330.0L652.3,331.5L652.3,333.0L652.3,334.6L652.3,336.1L652.3,337.6L652.3,339.1L652.3,340.6L652.3,342.2L652.3,343.7L652.3,345.2L652.3,346.7L652.3,348.3L652.3,349.8L652.3,351.3L652.3,352.8L652.3,354.3L652.3,355.9L652.3,357.4L652.3,358.9L652.3,360.4L652.3,361.9L652.3,363.5L652.3,365.0L652.3,366.5L652.3,368.0L652.2,369.5L652.2,371.1L652.2,372.6L652.2,374.1L652.2,375.6L652.2,377.2L652.2,378.7L652.2,380.2L652.2,381.7L652.2,383.2L652.2,384.8L652.2,386.3L652.1,387.8L652.1,389.3L652.1,390.8L652.1,392.4L652.1,393.9L652.1,395.4L652.1,396.9L652.1,398.4L652.0,400.0L652.0,401.5L652.0,403.0L652.0,404.5L652.0,406.1L651.9,407.6L651.9,409.1L651.9,410.6L651.9,412.1L651.9,413.7L651.8,415.2L651.8,416.7" fill="none" stroke="#04b7b9" stroke-width="2.45" stroke-linejoin="round" stroke-linecap="square"/>
<polygon points="153.5,202.7 149.0,193.7 158.0,193.7" fill="#04b7b9" stroke="#04b7b9" stroke-width="1.4" stroke-linejoin="round"/>
<polygon points="212.2,134.8 207.7,125.8 216.7,125.8" fill="#04b7b9" stroke="#04b7b9" stroke-width="1.4" stroke-linejoin="round"/>
<polygon points="142.0,427.5 137.5,418.5 146.5,418.5" fill="#04b7b9" stroke="#04b7b9" stroke-width="1.4" stroke-linejoin="round"/>
<polygon points="178.0,351.9 173.5,342.9 182.5,342.9" fill="#04b7b9" stroke="#04b7b9" stroke-width="1.4" stroke-linejoin="round"/>
<polygon points="285.4,300.9 280.9,291.9 289.9,291.9" fill="#04b7b9" stroke="#04b7b9" stroke-width="1.4" stroke-linejoin="round"/>
<polygon points="448.1,266.6 443.6,257.6 452.6,257.6" fill="#04b7b9" stroke="#04b7b9" stroke-width="1.4" stroke-linejoin="round"/>
<polygon points="584.6,302.1 580.1,293.1 589.1,293.1" fill="#04b7b9" stroke="#04b7b9" stroke-width="1.4" stroke-linejoin="round"/>
<polygon points="628.4,270.3 623.9,261.3 632.9,261.3" fill="#04b7b9" stroke="#04b7b9" stroke-width="1.4" stroke-linejoin="round"/>
<polygon points="645.8,381.3 641.3,372.3 650.3,372.3" fill="#04b7b9" stroke="#04b7b9" stroke-width="1.4" stroke-linejoin="round"/>
<polygon points="653.2,320.6 648.7,311.6 657.7,311.6" fill="#04b7b9" stroke="#04b7b9" stroke-width="1.4" stroke-linejoin="round"/>
</g>
<rect x="113.6" y="15.6" width="565.15" height="411.90" fill="none" stroke="#000" stroke-width="1.7"/>
<line x1="107.7" y1="15.57" x2="113.6" y2="15.57" stroke="#000" stroke-width="1.7"/>
<text x="40.28" y="24.17" font-size="26.0" textLength="59.14" lengthAdjust="spacingAndGlyphs">−2.5</text>
<line x1="107.7" y1="74.42" x2="113.6" y2="74.42" stroke="#000" stroke-width="1.7"/>
<text x="39.75" y="83.02" font-size="26.0" textLength="59.38" lengthAdjust="spacingAndGlyphs">−2.0</text>
<line x1="107.7" y1="133.27" x2="113.6" y2="133.27" stroke="#000" stroke-width="1.7"/>
<text x="40.28" y="141.87" font-size="26.0" textLength="59.14" lengthAdjust="spacingAndGlyphs">−1.5</text>
<line x1="107.7" y1="192.11" x2="113.6" y2="192.11" stroke="#000" stroke-width="1.7"/>
<text x="39.75" y="200.71" font-size="26.0" textLength="59.38" lengthAdjust="spacingAndGlyphs">−1.0</text>
<line x1="107.7" y1="250.96" x2="113.6" y2="250.96" stroke="#000" stroke-width="1.7"/>
<text x="40.28" y="259.56" font-size="26.0" textLength="59.14" lengthAdjust="spacingAndGlyphs">−0.5</text>
<line x1="107.7" y1="309.80" x2="113.6" y2="309.80" stroke="#000" stroke-width="1.7"/>
<text x="60.24" y="318.40" font-size="26.0" textLength="38.99" lengthAdjust="spacingAndGlyphs">0.0</text>
<line x1="107.7" y1="368.64" x2="113.6" y2="368.64" stroke="#000" stroke-width="1.7"/>
<text x="60.78" y="377.25" font-size="26.0" textLength="38.43" lengthAdjust="spacingAndGlyphs">0.5</text>
<line x1="107.7" y1="427.49" x2="113.6" y2="427.49" stroke="#000" stroke-width="1.7"/>
<text x="60.52" y="436.09" font-size="26.0" textLength="38.70" lengthAdjust="spacingAndGlyphs">1.0</text>
<line x1="139.40" y1="427.5" x2="139.40" y2="433.4" stroke="#000" stroke-width="1.7"/>
<text x="131.79" y="457.40" font-size="26.0" textLength="14.72" lengthAdjust="spacingAndGlyphs">0</text>
<line x1="242.12" y1="427.5" x2="242.12" y2="433.4" stroke="#000" stroke-width="1.7"/>
<text x="226.33" y="457.40" font-size="26.0" textLength="31.13" lengthAdjust="spacingAndGlyphs">20</text>
<line x1="344.84" y1="427.5" x2="344.84" y2="433.4" stroke="#000" stroke-width="1.7"/>
<text x="329.28" y="457.40" font-size="26.0" textLength="30.89" lengthAdjust="spacingAndGlyphs">40</text>
<line x1="447.56" y1="427.5" x2="447.56" y2="433.4" stroke="#000" stroke-width="1.7"/>
<text x="431.68" y="457.40" font-size="26.0" textLength="31.23" lengthAdjust="spacingAndGlyphs">60</text>
<line x1="550.28" y1="427.5" x2="550.28" y2="433.4" stroke="#000" stroke-width="1.7"/>
<text x="534.64" y="457.40" font-size="26.0" textLength="30.98" lengthAdjust="spacingAndGlyphs">80</text>
<line x1="653.00" y1="427.5" x2="653.00" y2="433.4" stroke="#000" stroke-width="1.7"/>
<text x="629.56" y="457.40" font-size="26.0" textLength="46.70" lengthAdjust="spacingAndGlyphs">100</text>
<line x1="390.3" y1="48.0" x2="441.3" y2="48.0" stroke="#f40a0a" stroke-width="2.45" stroke-linecap="square"/>
<polygon points="415.8,44.0 414.7,46.5 412.0,46.7 414.1,48.5 413.4,51.2 415.8,49.8 418.2,51.2 417.5,48.5 419.6,46.7 416.9,46.5" fill="#f40a0a" stroke="#f40a0a" stroke-width="1.0" stroke-linejoin="round"/>
<text x="463.16" y="56.70" font-size="26.3" textLength="141.90" lengthAdjust="spacingAndGlyphs">DLR/mono.</text>
<line x1="390.3" y1="84.3" x2="441.3" y2="84.3" stroke="#f77a0d" stroke-width="2.45" stroke-linecap="square"/>
<path d="M411.3,79.8L420.3,88.8M411.3,88.8L420.3,79.8" stroke="#f77a0d" stroke-width="1.9" fill="none"/>
<text x="463.17" y="93.20" font-size="26.3" textLength="136.33" lengthAdjust="spacingAndGlyphs">DLR/Chim.</text>
<line x1="390.3" y1="121.0" x2="441.3" y2="121.0" stroke="#ba05ba" stroke-width="2.45" stroke-linecap="square"/>
<path d="M411.3,121.0H420.3M415.8,116.5V125.5" stroke="#ba05ba" stroke-width="1.9" fill="none"/>
<text x="463.34" y="129.70" font-size="26.3" textLength="150.58" lengthAdjust="spacingAndGlyphs">DLR/ONERA</text>
<line x1="390.3" y1="157.3" x2="441.3" y2="157.3" stroke="#04b7b9" stroke-width="2.45" stroke-linecap="square"/>
<polygon points="415.8,161.8 411.3,152.8 420.3,152.8" fill="#04b7b9" stroke="#04b7b9" stroke-width="1.4" stroke-linejoin="round"/>
<text x="463.38" y="166.20" font-size="26.3" textLength="189.33" lengthAdjust="spacingAndGlyphs">ONERA/ONERA</text>
<text x="350.8" y="489.1" font-size="26.5" font-style="italic">x</text>
<text x="365.5" y="489.1" font-size="26.5">/</text>
<text x="374.7" y="489.1" font-size="26.5" font-style="italic">c</text>
<text x="397.6" y="487.6" font-size="23">[</text>
<text x="407.9" y="489.1" font-size="26.5">%</text>
<text x="434.6" y="487.6" font-size="23">]</text>
<text transform="translate(19.5,233.5) rotate(-90)" font-size="26.5"><tspan font-style="italic">c</tspan><tspan font-style="italic" font-size="17.5" dx="0.8" dy="3.2">p</tspan></text>
</g>
</svg>
</body></html>
